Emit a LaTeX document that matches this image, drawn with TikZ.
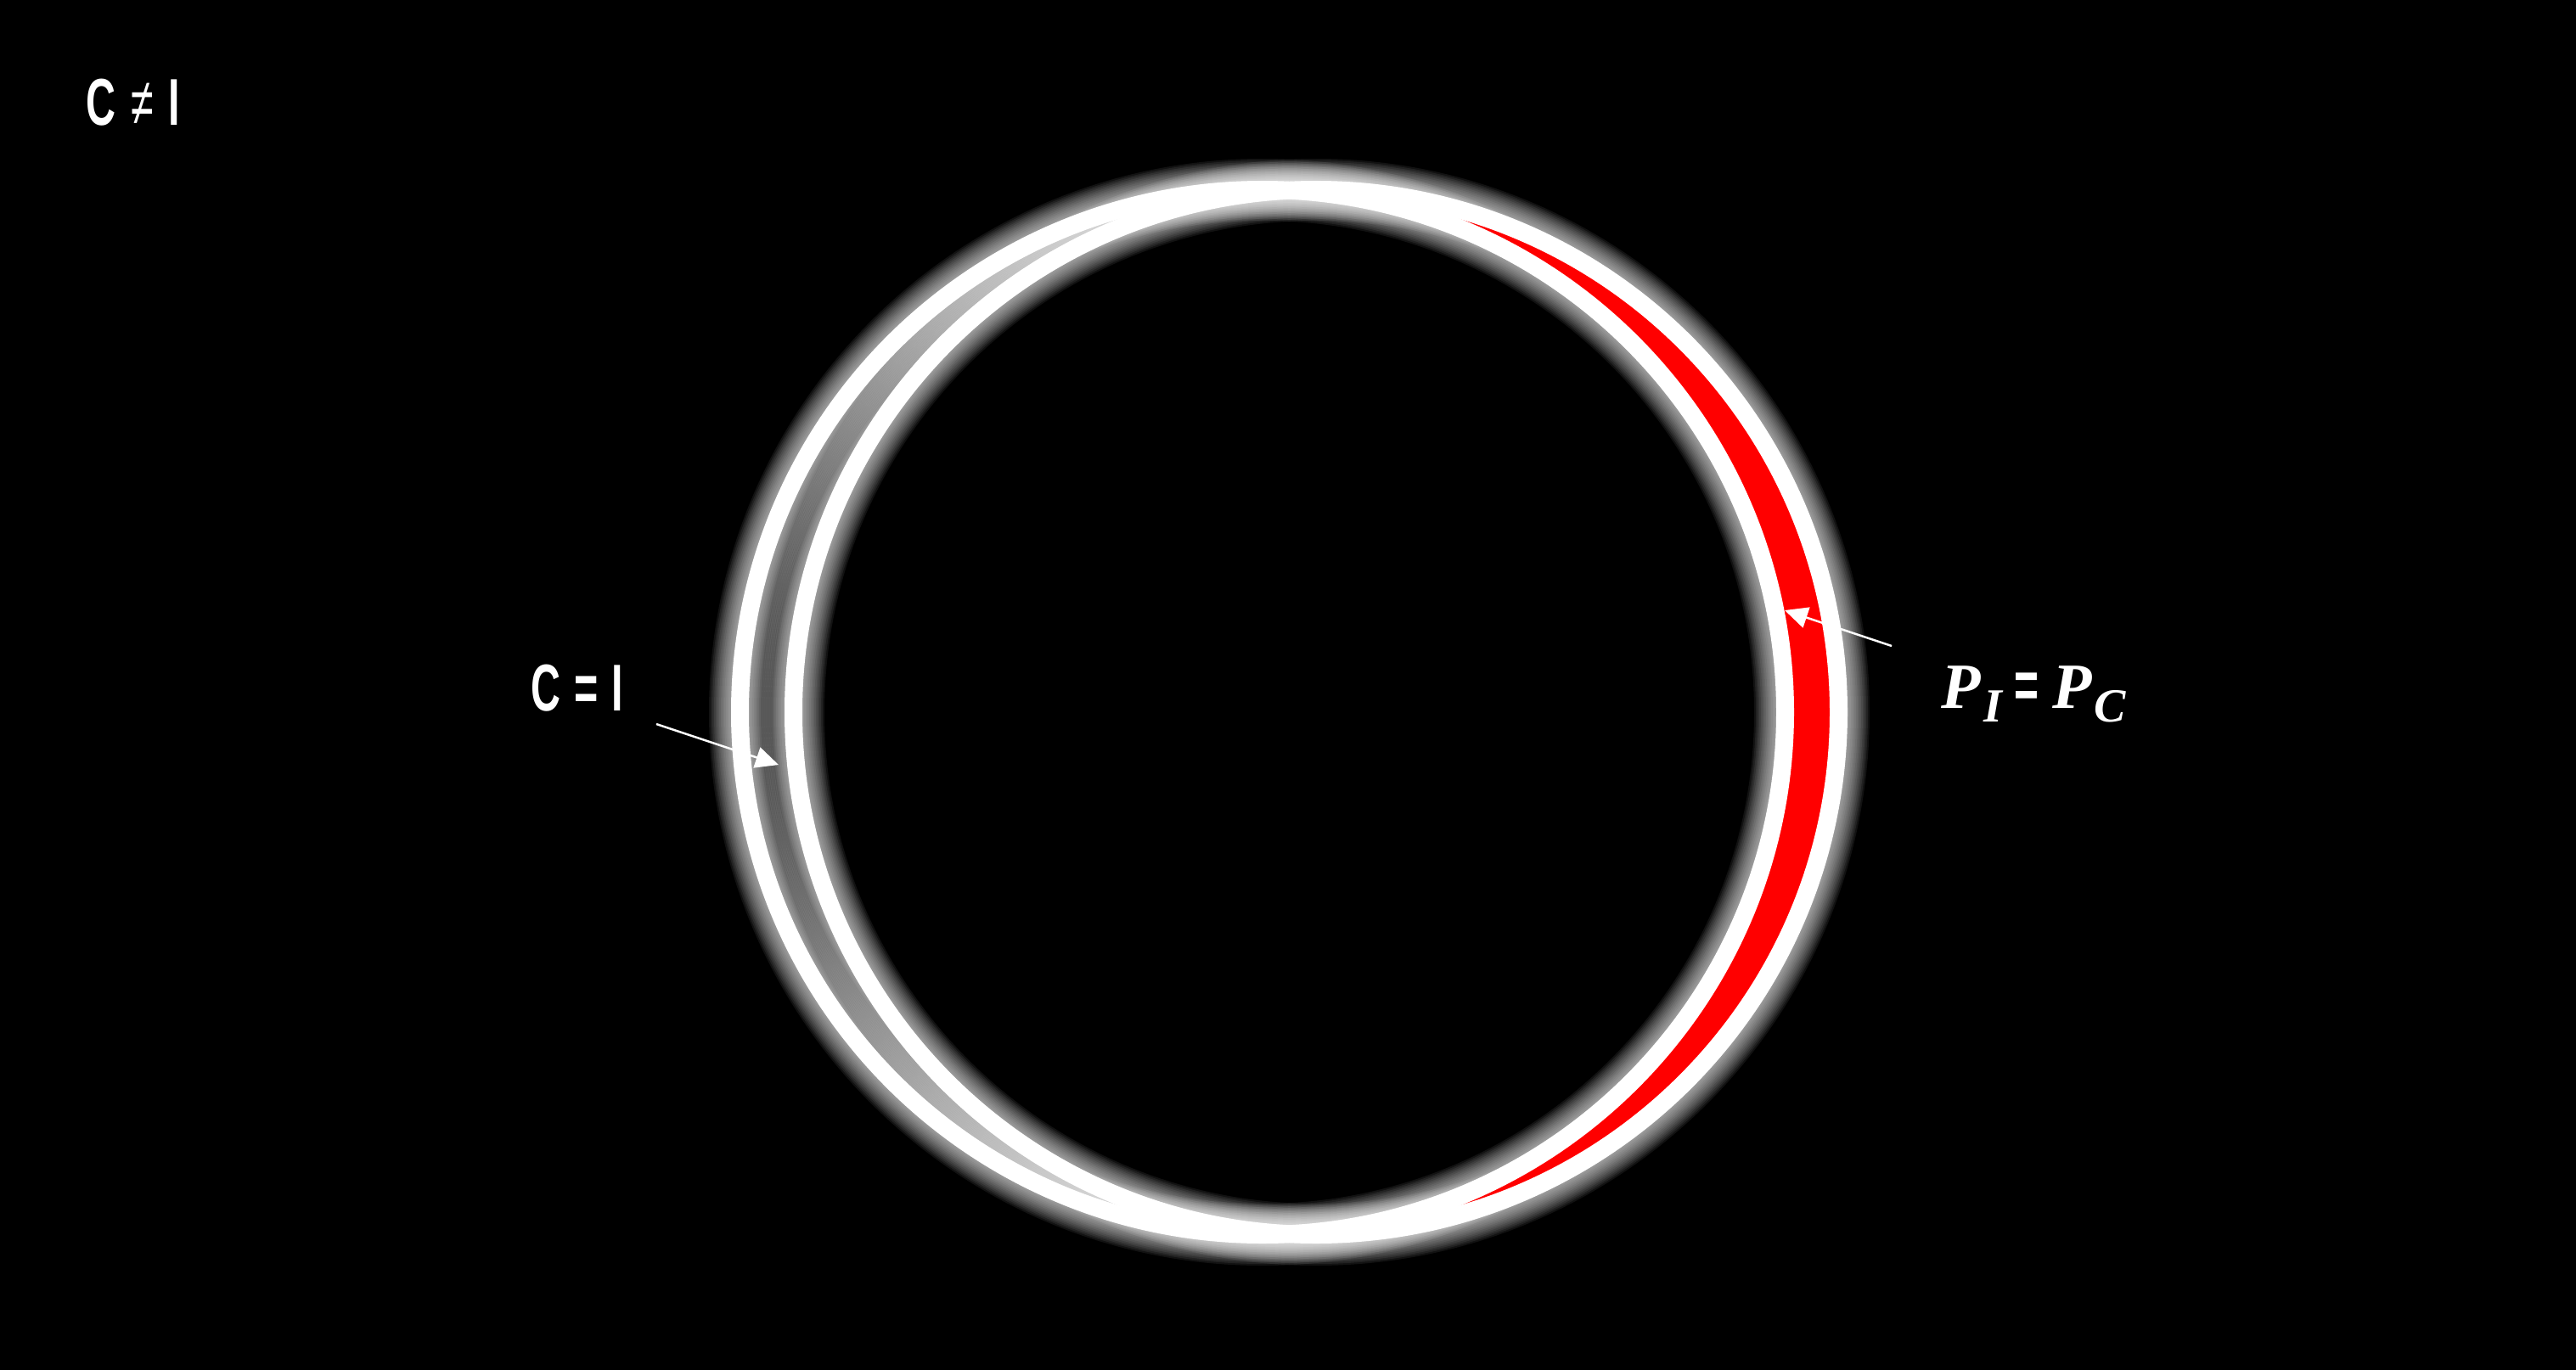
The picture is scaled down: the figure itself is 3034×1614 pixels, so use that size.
\documentclass[tikz,border=0pt]{standalone}
\usepackage{fontspec}
\usepackage{graphicx}
\usetikzlibrary{arrows.meta}
\newfontfamily\agency[FakeStretch=0.62]{Liberation Sans}
\newfontfamily\serifbi{Liberation Serif}
\definecolor{crescent}{RGB}{255,0,0}
\begin{document}
\begin{tikzpicture}[x=1pt,y=-1pt,
  ring/.style={draw=white, line width=21pt},
  glowring/.style={draw=white, opacity=0.07},
  pointer/.style={draw=white, line width=2.5pt, -{Triangle[length=27pt,width=25pt]}},
  lbl/.style={text=white, inner sep=0pt, anchor=base west}]
\fill[black] (0,0) rectangle (3034,1614);
\useasboundingbox (0,0) rectangle (3034,1614);
\coordinate (cA) at (1487,839);
\coordinate (cB) at (1550,839);
% glow
\foreach \k in {1,...,13} {
  \pgfmathsetmacro\lw{21+4*\k}
  \draw[glowring, line width=\lw pt] (cA) circle[radius=615.5pt];
  \draw[glowring, line width=\lw pt] (cB) circle[radius=615.5pt];
}
% red crescent
\begin{scope}
  \clip (1518.5,0) rectangle (3034,1614);
  \fill[crescent, even odd rule] (cB) circle[radius=615.5pt] (cA) circle[radius=615.5pt];
\end{scope}
% rings
\draw[ring] (cA) circle[radius=615.5pt];
\draw[ring] (cB) circle[radius=615.5pt];
% pointers
\coordinate (lt) at (773,853);
\coordinate (lh) at (917,901);
\draw[pointer] (lt) -- (lh);
\coordinate (rt) at (2228,761);
\coordinate (rh) at (2102,719);
\draw[pointer] (rt) -- (rh);
% labels
\node[lbl] (title) at (101,147) {\fontsize{78}{78}\selectfont\agency{\bfseries C}\hspace{18pt}{≠}\hspace{18pt}{\bfseries I}};
\node[lbl] (eq) at (625,837) {\fontsize{78}{78}\selectfont\agency\bfseries C\hspace{16pt}=\hspace{16pt}I};
\node[lbl] (pipc) at (2286,834) {\fontsize{76}{76}\selectfont\serifbi\bfseries\itshape P\hspace{4pt}\raisebox{-16pt}{\fontsize{56}{56}\selectfont I}\hspace{14pt}{\fontsize{80}{80}\selectfont\agency\upshape =}\hspace{16pt}P\hspace{3pt}\raisebox{-16pt}{\fontsize{56}{56}\selectfont C}};
\end{tikzpicture}
\end{document}
